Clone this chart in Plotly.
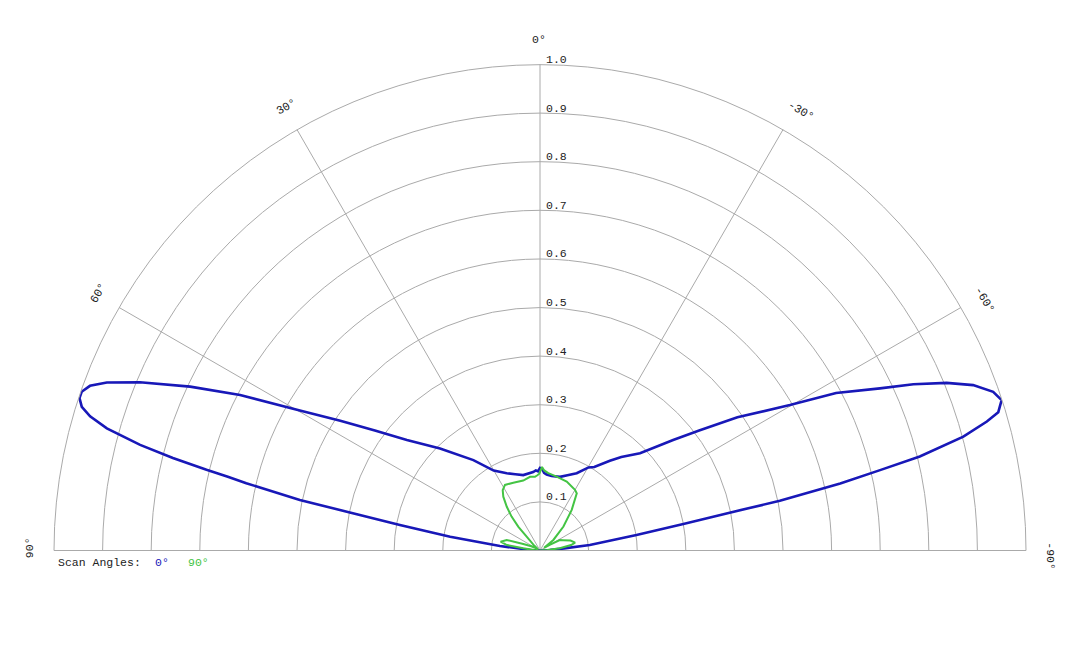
import math
import plotly.graph_objects as go

# ---------------- data ----------------
scan0_theta = [-90, -87, -85, -83.7, -80.9, -79.5, -78.7, -78.3, -77.4, -76.7, -76.1, -74.95,
               -73.9, -73.2, -71.95, -70.7, -69.1, -67.6, -66.0, -64.5, -62.0, -59.8, -56.0,
               -53.0, -50.3, -45.8, -41.0, -37.9, -33.0, -30.3, -25.4, -20.0, -15.2, -8.9,
               -5.0, -3.0, -1.5, 0.0, 1.5, 3.0, 5.0, 12.5, 18.0, 23.3, 30.1, 36.4, 44.4,
               50.3, 54.0, 57.0, 59.7, 62.6, 64.9, 67.2, 68.8, 69.9, 70.9, 71.7, 72.6, 73.4,
               74.25, 75.2, 75.85, 76.4, 76.7, 77.1, 78.1, 78.7, 79.7, 81.3, 83.6, 87, 90]
scan0_r = [0.0, 0.02, 0.05, 0.103, 0.201, 0.30, 0.40, 0.504, 0.633, 0.719, 0.805, 0.902,
           0.957, 0.985, 0.999, 0.988, 0.954, 0.905, 0.841, 0.775, 0.69, 0.595, 0.49,
           0.41, 0.356, 0.287, 0.255, 0.234, 0.205, 0.198, 0.176, 0.165, 0.157, 0.155,
           0.157, 0.16, 0.168, 0.17, 0.163, 0.165, 0.162, 0.159, 0.165, 0.173, 0.19, 0.231, 0.294,
           0.356, 0.42, 0.49, 0.57, 0.695, 0.795, 0.893, 0.956, 0.986, 0.998, 0.998, 0.988, 0.966,
           0.926, 0.851, 0.779, 0.706, 0.66, 0.62, 0.505, 0.399, 0.293, 0.187, 0.083, 0.02, 0.0]

scan90_theta = [-90, -86, -83.7, -80, -77.4, -72, -66, -62.3, -60, -57, -51.7, -44.4, -38,
                -32.7, -30, -21.2, -12.7, -6.1, -3, -1.4, 0.5, 2, 3.9, 7.7, 13.5, 21.5,
                28.1, 31.7, 34.3, 37.2, 40, 42.3, 43.9, 50, 56, 60, 64, 68.7, 72.5, 77.4,
                80.6, 82.5, 86, 90]
scan90_r = [0.0, 0.015, 0.041, 0.065, 0.074, 0.066, 0.052, 0.046, 0.023, 0.01, 0.035, 0.069, 0.106,
            0.14, 0.144, 0.152, 0.156, 0.16, 0.165, 0.172, 0.158, 0.155, 0.152, 0.153, 0.148, 0.15,
            0.153, 0.146, 0.134, 0.113, 0.091, 0.066, 0.039, 0.015, 0.005, 0.01, 0.02, 0.037, 0.072, 0.083,
            0.069, 0.035, 0.012, 0.0]

series_names = ["0°", "90°"]
series_colors = ["#1818b8", "#44c444"]

radial_ticks = [0.1, 0.2, 0.3, 0.4, 0.5, 0.6, 0.7, 0.8, 0.9, 1.0]
angle_ticks = [-90, -60, -30, 0, 30, 60, 90]
angle_labels = ["-90°", "-60°", "-30°", "0°", "30°", "60°", "90°"]
legend_title = "Scan Angles:"

# ---------------- layout geometry (window pixels) ----------------
PAGE_PAD = 8                      # default body margin of the html page
W, H = 1080 - 2 * PAGE_PAD, 648 - 2 * PAGE_PAD
CX, CY, R = 540.0, 550.5, 486.0   # polar centre and outer radius on screen
FONT = "Courier New, Liberation Mono, monospace"
FS = 11.5
GRID = "#aaaaaa"
TXT = "#222222"


def px(x):
    return (x - PAGE_PAD) / W


def py(y):
    return 1 - (y - PAGE_PAD) / H


fig = go.Figure()
fig.add_trace(go.Scatterpolar(theta=scan0_theta, r=scan0_r, mode="lines",
                              line=dict(color=series_colors[0], width=2.6),
                              name=series_names[0]))
fig.add_trace(go.Scatterpolar(theta=scan90_theta, r=scan90_r, mode="lines",
                              line=dict(color=series_colors[1], width=2),
                              name=series_names[1]))

annotations = []
char_w = 0.6 * FS
# angular labels, rotated along their spoke
for a, lab in zip(angle_ticks, angle_labels):
    rl = R + 25
    ax = CX - rl * math.sin(math.radians(a))
    ay = CY - rl * math.cos(math.radians(a))
    t = -a
    off = len(lab) * char_w / 2 - 8
    ax += off * math.cos(math.radians(t))
    ay += off * math.sin(math.radians(t))
    annotations.append(dict(x=px(ax), y=py(ay), xref="paper", yref="paper",
                            text=lab, showarrow=False, textangle=t,
                            xanchor="center", yanchor="middle",
                            font=dict(family=FONT, size=FS, color=TXT)))

# radial labels along the 0° spoke
for v in radial_ticks:
    annotations.append(dict(x=px(CX + 4), y=py(CY - v * R - 5), xref="paper", yref="paper",
                            text=f"{v:.1f}", showarrow=False,
                            xanchor="left", yanchor="middle",
                            font=dict(family=FONT, size=FS, color=TXT)))

# legend as coloured text
annotations.append(dict(x=px(56), y=py(562), xref="paper", yref="paper", text=legend_title,
                        showarrow=False, xanchor="left", yanchor="middle",
                        font=dict(family=FONT, size=FS, color=TXT)))
for xpos, name, col in zip([153, 186], series_names, series_colors):
    annotations.append(dict(x=px(xpos), y=py(562), xref="paper", yref="paper", text=name,
                            showarrow=False, xanchor="left", yanchor="middle",
                            font=dict(family=FONT, size=FS, color=col)))

fig.update_layout(
    width=W, height=H,
    margin=dict(l=0, r=0, t=0, b=0),
    paper_bgcolor="white",
    showlegend=False,
    polar=dict(
        domain=dict(x=[px(CX - R), px(CX + R)], y=[py(CY), py(CY - R)]),
        sector=[0, 180],
        bgcolor="white",
        angularaxis=dict(direction="counterclockwise", rotation=90,
                         tickmode="array", tickvals=angle_ticks,
                         showticklabels=False, ticks="",
                         showgrid=True, gridcolor=GRID, gridwidth=1,
                         showline=True, linecolor=GRID, linewidth=1),
        radialaxis=dict(range=[0, 1], angle=90,
                        tickmode="array", tickvals=radial_ticks,
                        showticklabels=False, showline=False, ticks="",
                        showgrid=True, gridcolor=GRID, gridwidth=1),
    ),
    annotations=annotations,
)

fig.write_html("out.html")
